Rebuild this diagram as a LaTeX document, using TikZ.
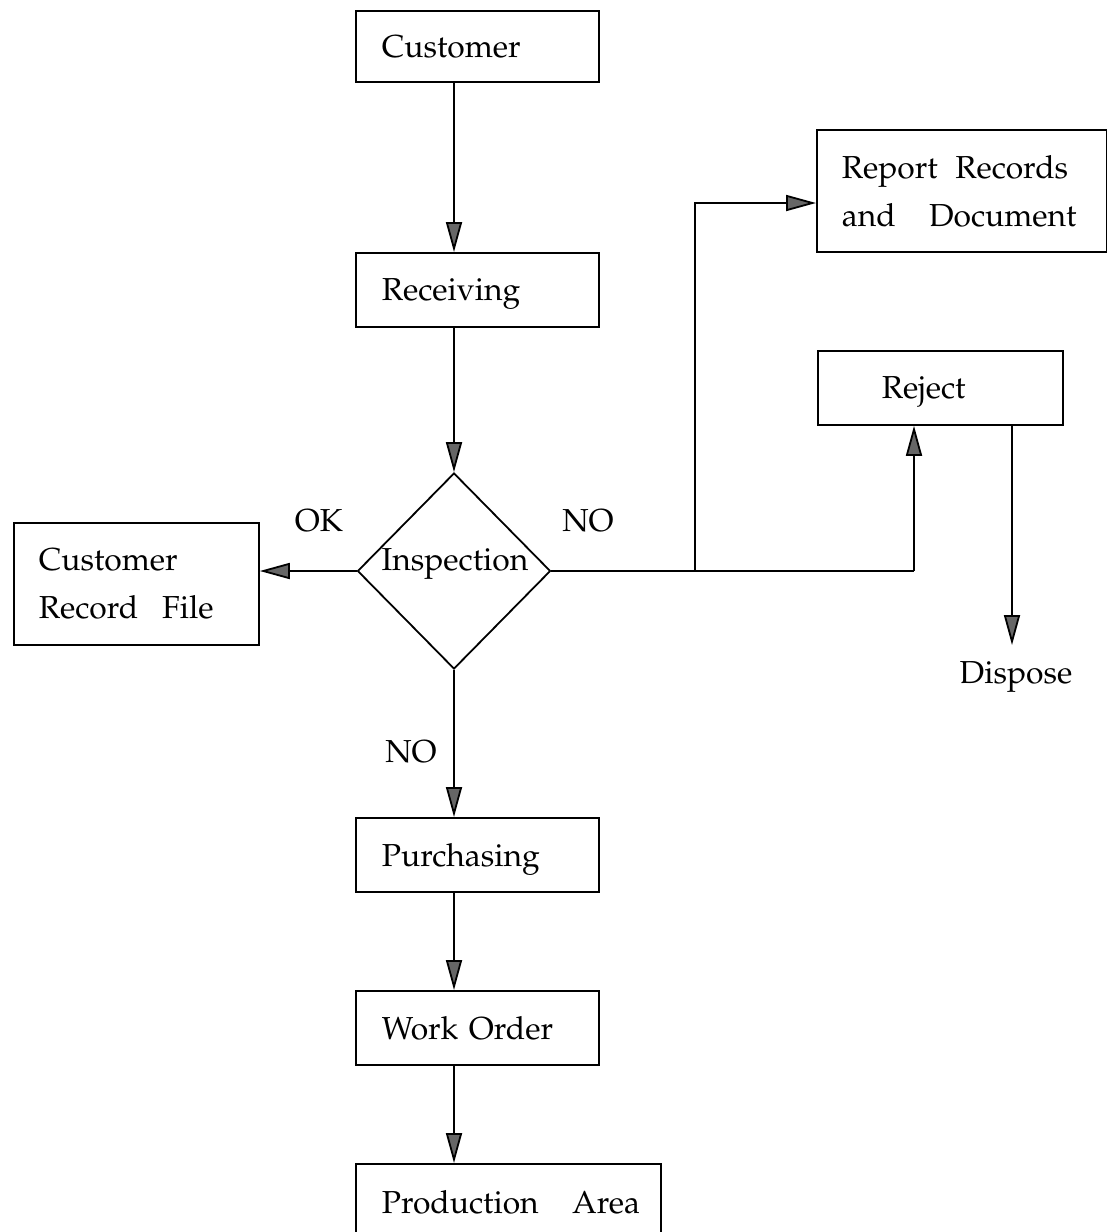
\documentclass[tikz,border=0pt]{standalone}
\usepackage[T1]{fontenc}
\usepackage{mathpazo}
\usetikzlibrary{arrows.meta,shapes.geometric}

\tikzset{
  every node/.style={font=\fontsize{15.9}{24}\selectfont},
  line/.style={line width=0.9pt},
  flow/.style={line, -{Triangle[length=15pt,width=8pt,fill=black!60]}},
  box/.style={draw, line width=0.9pt, anchor=north west, align=left,
              inner xsep=13pt, inner ysep=0pt},
  oneline/.style={box, text depth=0pt},
  tag/.style={inner sep=0pt}
}

\begin{document}
\begin{tikzpicture}[x=0.5pt,y=-0.5pt]
  \useasboundingbox (0,0) rectangle (1107,1232);

  % main column
  \node[oneline, minimum height=35.5pt, text width=95.5pt] (cust) at (355,10) {Customer};
  \node[oneline, minimum height=37pt, text width=95.5pt] (recv) at (355,252) {Receiving};
  \node[draw, line width=0.9pt, diamond, minimum width=96.5pt, minimum height=98pt,
        inner sep=0pt] (insp) at (454,571) {};
  \node[tag] (insplbl) at (455,564) {Inspection};
  \node[oneline, minimum height=37pt, text width=95.5pt] (purch) at (355,817) {Purchasing};
  \node[oneline, minimum height=37pt, text width=95.5pt] (work) at (355,990) {Work Order};
  \node[oneline, minimum height=38pt, text width=126.5pt] (prod) at (355,1163)
        {\mbox{Production\hspace{1.05em}Area}};

  % side boxes
  \node[box, minimum height=61pt, text width=97.5pt, inner xsep=12.5pt] (file) at (13,522)
        {Customer\\\mbox{Record\hspace{0.75em}File}};
  \node[box, minimum height=61pt, text width=120pt, inner xsep=12.5pt] (report) at (816,129)
        {\mbox{Report\hspace{0.55em}Records}\\\mbox{and\hspace{1.05em}Document}};
  \node[oneline, minimum height=37pt, text width=58.5pt, inner xsep=32pt] (reject) at (817,350)
        {Reject};
  \node[tag] (dispose) at (1016,677) {Dispose};

  % labels
  \node[tag] (ok) at (319,521) {OK};
  \node[tag] (noright) at (588,521) {NO};
  \node[tag] (nodown) at (411,752) {NO};

  % junctions
  \coordinate (split) at (695,571);
  \coordinate (rjin) at (914,571);
  \coordinate (dspend) at (1012,645);

  % connectors
  \draw[flow] (cust.south -| 454,0) -- (recv.north -| 454,0);
  \draw[flow] (recv.south -| 454,0) -- (insp.north);
  \draw[flow] (insp.west) -- (file.east |- insp.west);
  \draw[flow] (insp.south) -- (purch.north -| 454,0);
  \draw[flow] (purch.south -| 454,0) -- (work.north -| 454,0);
  \draw[flow] (work.south -| 454,0) -- (prod.north -| 454,0);
  \draw[line] (insp.east) -- (rjin);
  \draw[flow] (rjin) -- (reject.south -| rjin);
  \draw[flow] (split) -- (split |- 0,203) -- (report.west |- 0,203);
  \draw[flow] (reject.south -| dspend) -- (dspend);
\end{tikzpicture}
\end{document}
